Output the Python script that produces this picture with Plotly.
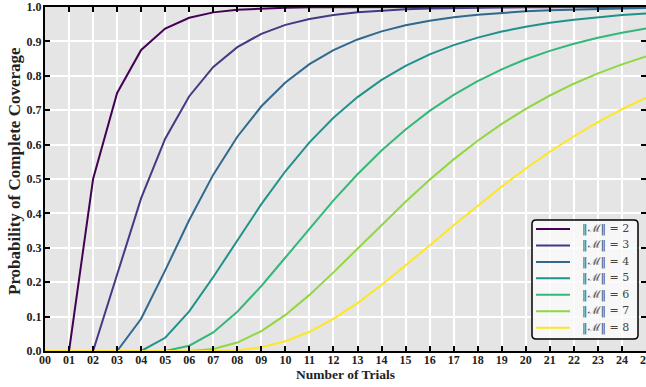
import plotly.graph_objects as go

trials = list(range(0, 26))
x_tick_labels = [f"{i:02d}" for i in trials]
y_tick_vals = [0.0, 0.1, 0.2, 0.3, 0.4, 0.5, 0.6, 0.7, 0.8, 0.9, 1.0]

p_m2 = [0, 0, 0.5, 0.75, 0.875, 0.9375, 0.9688, 0.9844, 0.9922, 0.9961, 0.9980, 0.9990, 0.9995,
        0.9998, 0.9999, 0.9999, 1.0, 1.0, 1.0, 1.0, 1.0, 1.0, 1.0, 1.0, 1.0, 1.0]
p_m3 = [0, 0, 0, 0.2222, 0.4444, 0.6173, 0.7407, 0.8258, 0.8834, 0.9221, 0.9480, 0.9653, 0.9769,
        0.9846, 0.9897, 0.9931, 0.9954, 0.9970, 0.9980, 0.9987, 0.9991, 0.9994, 0.9996, 0.9997, 0.9998, 0.9999]
p_m4 = [0, 0, 0, 0, 0.0938, 0.2344, 0.3809, 0.5127, 0.6229, 0.7114, 0.7806, 0.8340, 0.8748,
        0.9057, 0.9291, 0.9467, 0.9600, 0.9700, 0.9775, 0.9831, 0.9873, 0.9905, 0.9929, 0.9947, 0.9960, 0.9970]
p_m5 = [0, 0, 0, 0, 0, 0.0384, 0.1152, 0.2150, 0.3226, 0.4271, 0.5225, 0.6064, 0.6780,
        0.7381, 0.7879, 0.8288, 0.8621, 0.8891, 0.9109, 0.9286, 0.9427, 0.9541, 0.9632, 0.9706, 0.9764, 0.9811]
p_m6 = [0, 0, 0, 0, 0, 0, 0.0154, 0.0540, 0.1140, 0.1890, 0.2718, 0.3562, 0.4378,
        0.5139, 0.5828, 0.6442, 0.6980, 0.7446, 0.7847, 0.8189, 0.8480, 0.8726, 0.8933, 0.9108, 0.9254, 0.9377]
p_m7 = [0, 0, 0, 0, 0, 0, 0, 0.0061, 0.0245, 0.0577, 0.1049, 0.1631, 0.2285,
        0.2973, 0.3666, 0.4339, 0.4977, 0.5570, 0.6112, 0.6601, 0.7039, 0.7427, 0.7770, 0.8071, 0.8333, 0.8562]
p_m8 = [0, 0, 0, 0, 0, 0, 0, 0, 0.0024, 0.0108, 0.0282, 0.0558, 0.0933,
        0.1393, 0.1917, 0.2483, 0.3068, 0.3656, 0.4231, 0.4784, 0.5306, 0.5793, 0.6243, 0.6654, 0.7028, 0.7367]

series_names = ["‖ℳ‖ = 2", "‖ℳ‖ = 3", "‖ℳ‖ = 4", "‖ℳ‖ = 5", "‖ℳ‖ = 6", "‖ℳ‖ = 7", "‖ℳ‖ = 8"]
series_values = [p_m2, p_m3, p_m4, p_m5, p_m6, p_m7, p_m8]
series_colors = ["#440154", "#443983", "#31688e", "#21918c", "#35b779", "#90d743", "#fde725"]

W, H = 646, 387
ML, MR, MT, MB = 45, 0, 7, 36
PW, PH = W - ML - MR, H - MT - MB


def px_x(px):
    return (px - ML) / PW


def px_y(py):
    return (H - MB - py) / PH


fig = go.Figure()
for name, vals, col in zip(series_names, series_values, series_colors):
    fig.add_trace(go.Scatter(x=trials, y=vals, mode="lines", name=name,
                             line=dict(color=col, width=2), showlegend=False))

serif = "Liberation Serif"
axis_common = dict(
    showline=True, linecolor="black", linewidth=2, mirror="allticks",
    ticks="inside", ticklen=5, tickwidth=1.5, tickcolor="black",
    showgrid=True, gridcolor="white", gridwidth=1.5, zeroline=False,
    automargin=False, ticklabeloverflow="allow",
    tickfont=dict(family=serif, size=12, color="#222"),
)

fig.update_xaxes(range=[0, 25], tickvals=trials, ticklabelstandoff=-3,
                 ticktext=[f"<b>{t}</b>" for t in x_tick_labels], **axis_common)
fig.update_yaxes(range=[0, 1], tickvals=y_tick_vals, ticklabelstandoff=-1,
                 ticktext=[f"<b>{v:.1f}</b>" for v in y_tick_vals], **axis_common)

fig.add_annotation(text="<b>Number of Trials</b>", xref="paper", yref="paper",
                   x=px_x(345), y=px_y(375), xanchor="center", yanchor="middle", showarrow=False,
                   font=dict(family=serif, size=13.5, color="#222"))
fig.add_annotation(text="<b>Probability of Complete Coverage</b>", xref="paper", yref="paper",
                   x=px_x(14), y=px_y(171), xanchor="center", yanchor="middle", showarrow=False,
                   textangle=-90, font=dict(family=serif, size=17, color="#222"))

# legend box (rounded rectangle)
bl, br, bt, bb, r = 532, 638, 220, 339, 4
path = (f"M {px_x(bl + r)} {px_y(bt)} L {px_x(br - r)} {px_y(bt)} "
        f"Q {px_x(br)} {px_y(bt)} {px_x(br)} {px_y(bt + r)} "
        f"L {px_x(br)} {px_y(bb - r)} Q {px_x(br)} {px_y(bb)} {px_x(br - r)} {px_y(bb)} "
        f"L {px_x(bl + r)} {px_y(bb)} Q {px_x(bl)} {px_y(bb)} {px_x(bl)} {px_y(bb - r)} "
        f"L {px_x(bl)} {px_y(bt + r)} Q {px_x(bl)} {px_y(bt)} {px_x(bl + r)} {px_y(bt)} Z")
fig.add_shape(type="path", path=path, xref="paper", yref="paper",
              fillcolor="rgba(250,250,250,0.85)", line=dict(color="black", width=1.5))

row0, row_step = 229, 16.45
for i, (name, col) in enumerate(zip(series_names, series_colors)):
    yy = px_y(row0 + i * row_step)
    fig.add_shape(type="line", xref="paper", yref="paper",
                  x0=px_x(536), x1=px_x(570), y0=yy, y1=yy, line=dict(color=col, width=2))
    fig.add_annotation(text=name, xref="paper", yref="paper", x=px_x(580), y=yy,
                       xanchor="left", yanchor="middle", showarrow=False,
                       font=dict(family="DejaVu Serif", size=11, color="#444"))

fig.update_layout(
    width=W, height=H,
    margin=dict(l=ML, r=MR, t=MT, b=MB),
    paper_bgcolor="white", plot_bgcolor="#e5e5e5",
    showlegend=False,
)

fig.write_html("out.html", config={"displayModeBar": False},
               post_script="document.body.style.margin='0';document.body.style.overflow='hidden';")
